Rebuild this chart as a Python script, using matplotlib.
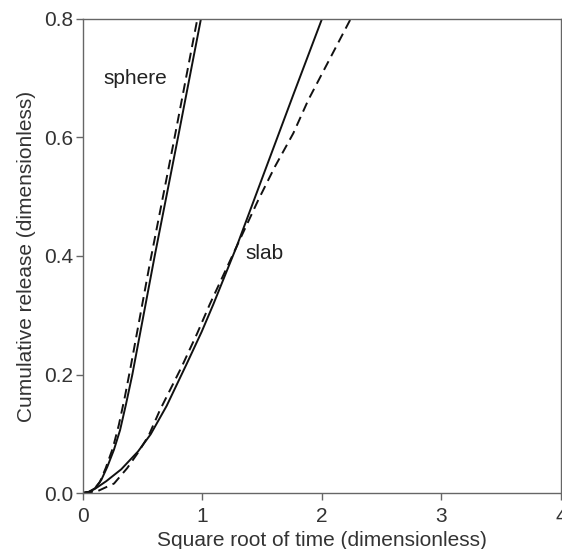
import matplotlib
matplotlib.use("Agg")
import matplotlib.pyplot as plt

plt.rcParams["font.family"] = ["Liberation Sans", "DejaVu Sans"]

# Cumulative release vs square root of time (both dimensionless)
sphere_x = [0.0, 0.05, 0.10, 0.153, 0.203, 0.259, 0.31, 0.36, 0.413, 0.60, 0.795, 0.987]
sphere_y = [0.0, 0.002, 0.008, 0.022, 0.044, 0.073, 0.106, 0.15, 0.20, 0.40, 0.60, 0.80]

sphere_approx_x = [0.0, 0.08, 0.14, 0.19, 0.25, 0.30, 0.35, 0.40, 0.56, 0.757, 0.957]
sphere_approx_y = [0.0, 0.003, 0.018, 0.042, 0.076, 0.115, 0.162, 0.214, 0.388, 0.59, 0.80]

slab_x = [0.0, 0.05, 0.10, 0.195, 0.32, 0.46, 0.566, 0.70, 0.868, 0.993, 1.09, 1.286, 1.412,
          1.523, 1.649, 1.76, 2.0]
slab_y = [0.0, 0.002, 0.007, 0.020, 0.040, 0.070, 0.099, 0.147, 0.218, 0.272, 0.318, 0.416, 0.484,
          0.544, 0.612, 0.672, 0.80]

slab_approx_x = [0.0, 0.12, 0.26, 0.37, 0.46, 0.55, 0.644, 0.826, 0.957, 1.06, 1.18, 1.286,
                 1.467, 1.607, 1.76, 1.885, 2.24]
slab_approx_y = [0.0, 0.003, 0.016, 0.042, 0.068, 0.097, 0.14, 0.213, 0.27, 0.318, 0.37, 0.416,
                 0.4945, 0.551, 0.607, 0.663, 0.80]

x_ticks = [0, 1, 2, 3, 4]
y_ticks = [0.0, 0.2, 0.4, 0.6, 0.8]
y_tick_labels = ["0.0", "0.2", "0.4", "0.6", "0.8"]

fig = plt.figure(figsize=(5.62, 5.49), dpi=100)
ax = fig.add_axes([0.1477, 0.102, 0.8503, 0.8634])

line_kw = dict(color="#111111", lw=1.4)
ax.plot(sphere_x, sphere_y, **line_kw)
ax.plot(slab_x, slab_y, **line_kw)
ax.plot(sphere_approx_x, sphere_approx_y, linestyle=(0, (5, 3)), **line_kw)
ax.plot(slab_approx_x, slab_approx_y, linestyle=(0, (5, 3)), **line_kw)

ax.text(0.44, 0.70, "sphere", fontsize=15, color="#222222", ha="center", va="center")
ax.text(1.52, 0.405, "slab", fontsize=15, color="#222222", ha="center", va="center")

ax.set_xlim(0, 4)
ax.set_ylim(0, 0.8)
ax.set_xticks(x_ticks)
ax.set_yticks(y_ticks)
ax.set_yticklabels(y_tick_labels)

for s in ax.spines.values():
    s.set_color("#666666")
    s.set_linewidth(1.0)
ax.tick_params(direction="out", length=5, width=1.0, color="#666666",
               labelsize=15, labelcolor="#333333")
ax.tick_params(axis="x", pad=5)
ax.tick_params(axis="y", pad=2)

ax.set_xlabel("Square root of time (dimensionless)", fontsize=15, color="#333333", labelpad=4)
ax.set_ylabel("Cumulative release (dimensionless)", fontsize=15, color="#333333", labelpad=6)

fig.savefig("out.png", dpi=100)
